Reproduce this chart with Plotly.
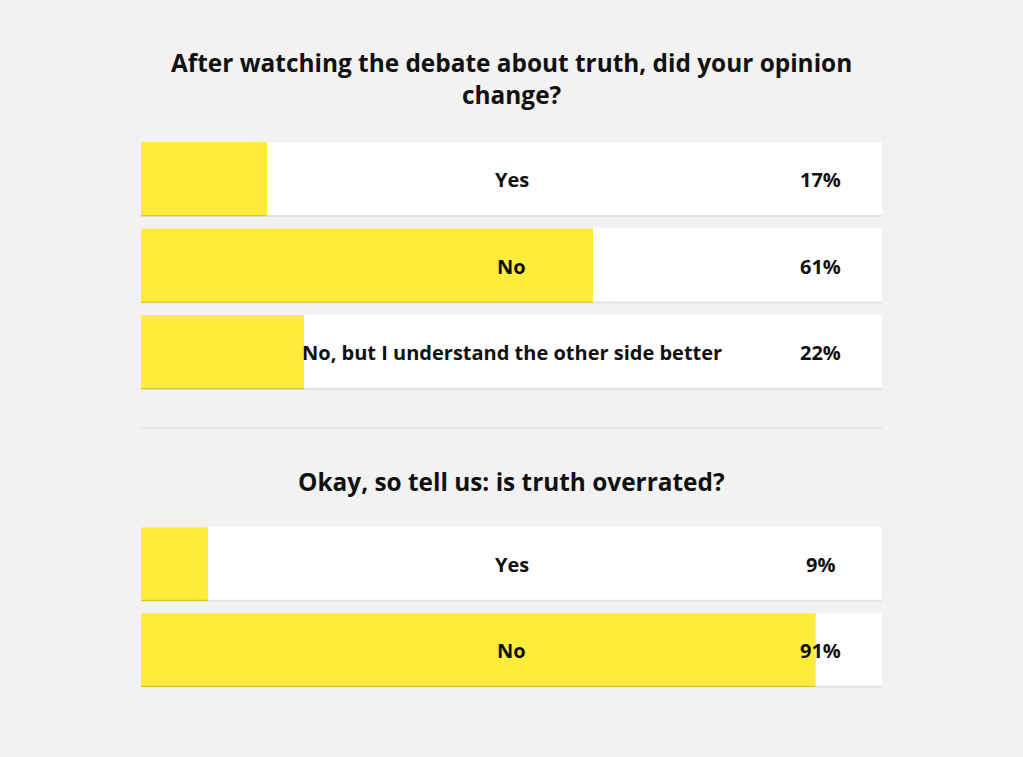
import plotly.graph_objects as go
from plotly.subplots import make_subplots

# poll data
q1_title = "After watching the debate about truth, did your opinion<br>change?"
q1_answers = ["Yes", "No", "No, but I understand the other side better"]
q1_values = [17, 61, 22]

q2_title = "Okay, so tell us: is truth overrated?"
q2_answers = ["Yes", "No"]
q2_values = [9, 91]

YELLOW = "#ffec3a"
YELLOW_DARK = "#d8c631"
BG = "#f2f2f2"
FONT = "Open Sans"
W, H = 1023, 757

fig = make_subplots(rows=2, cols=1)

bar_w = 0.844
shadow_shift = 0.022


def add_poll(fig, row, answers, values):
    n = len(answers)
    ys = list(range(n))
    full = [100] * n
    # soft shadow under the white rows
    fig.add_trace(go.Bar(
        x=full, y=ys, orientation="h", width=bar_w,
        offset=-bar_w / 2 + shadow_shift,
        marker=dict(color="#e3e3e3", line=dict(width=0)),
        hoverinfo="skip", showlegend=False
    ), row=row, col=1)
    fig.add_trace(go.Bar(
        x=full, y=ys, orientation="h", width=bar_w, offset=-bar_w / 2,
        marker=dict(color="white", line=dict(width=0)),
        hoverinfo="skip", showlegend=False
    ), row=row, col=1)
    fig.add_trace(go.Bar(
        x=values, y=ys, orientation="h", width=bar_w,
        offset=-bar_w / 2 + shadow_shift * 0.6,
        marker=dict(color=YELLOW_DARK, line=dict(width=0)),
        hoverinfo="skip", showlegend=False
    ), row=row, col=1)
    fig.add_trace(go.Bar(
        x=values, y=ys, orientation="h", width=bar_w, offset=-bar_w / 2,
        marker=dict(color=YELLOW, line=dict(width=0)),
        hoverinfo="skip", showlegend=False
    ), row=row, col=1)
    fig.update_yaxes(range=[n - 0.5, -0.5], row=row, col=1)

    xref = "x" if row == 1 else "x%d" % row
    yref = "y" if row == 1 else "y%d" % row
    lab_font = dict(family=FONT, size=20, color="#111111", weight="bold")
    for y, a, v in zip(ys, answers, values):
        # answer label, centred on the row
        fig.add_annotation(
            x=50, y=y, xref=xref, yref=yref, text=a, showarrow=False,
            xanchor="center", yanchor="middle", yshift=-1, font=lab_font
        )
        # percentage
        fig.add_annotation(
            x=91.7, y=y, xref=xref, yref=yref, text=f"{v}%", showarrow=False,
            xanchor="center", yanchor="middle", yshift=-1, font=lab_font
        )


add_poll(fig, 1, q1_answers, q1_values)
add_poll(fig, 2, q2_answers, q2_values)

x_dom = [141 / W, 882 / W]
fig.update_xaxes(range=[0, 100], domain=x_dom, visible=False, fixedrange=True)
fig.update_yaxes(visible=False, fixedrange=True)
fig.update_layout(
    yaxis=dict(domain=[1 - 394.75 / H, 1 - 135.25 / H]),
    yaxis2=dict(domain=[1 - 692.5 / H, 1 - 520.5 / H]),
)

fig.add_annotation(
    text=q1_title, xref="paper", yref="paper", x=511.5 / W, y=1 - 79 / H,
    showarrow=False, align="center", yanchor="middle",
    font=dict(family=FONT, size=24.4, color="#111111", weight="bold")
)
fig.add_annotation(
    text=q2_title, xref="paper", yref="paper", x=511.5 / W, y=1 - 482 / H,
    showarrow=False, align="center", yanchor="middle",
    font=dict(family=FONT, size=24.4, color="#111111", weight="bold")
)

# divider between the two polls
fig.add_shape(
    type="line", xref="paper", yref="paper",
    x0=x_dom[0], x1=x_dom[1], y0=1 - 428 / H, y1=1 - 428 / H,
    line=dict(color="#d9d9d9", width=1)
)

fig.update_layout(
    width=W, height=H,
    margin=dict(l=0, r=0, t=0, b=0),
    barmode="overlay",
    paper_bgcolor=BG,
    plot_bgcolor=BG,
    font=dict(family=FONT),
)

fig.write_html(
    "out.html",
    config={"displayModeBar": False},
    post_script="document.body.style.margin='0';"
                "document.body.style.background='%s';" % BG,
)
